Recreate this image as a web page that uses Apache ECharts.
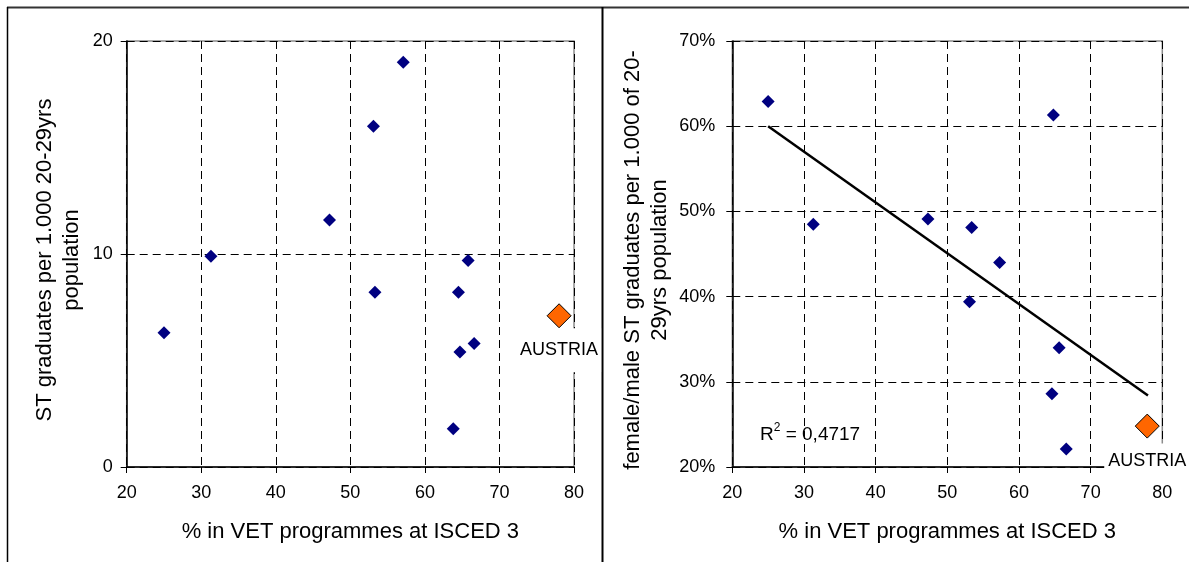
<!DOCTYPE html>
<html>
<head>
<meta charset="utf-8">
<script src="https://cdn.jsdelivr.net/npm/echarts@6/dist/echarts.min.js"></script>
<style>
html,body{margin:0;padding:0;background:#fff;}
#chart{width:1189px;height:562px;}
</style>
</head>
<body>
<div id="chart"></div>
<script>
// ---- data ----
const xTicks = [20, 30, 40, 50, 60, 70, 80];
const leftYTicks = [0, 10, 20];
const rightYTicks = [20, 30, 40, 50, 60, 70];

const leftX = [25.0, 31.3, 47.2, 53.1, 53.3, 57.1, 63.8, 64.5, 64.7, 65.8, 66.6];
const leftY = [6.3, 9.9, 11.6, 16.0, 8.2, 19.0, 1.8, 8.2, 5.4, 9.7, 5.8];
const austriaLeft = [78.0, 7.1];

const rightX = [25.0, 31.3, 47.3, 53.4, 53.1, 57.3, 64.8, 65.6, 64.6, 66.6];
const rightY = [62.9, 48.5, 49.1, 48.1, 39.4, 44.0, 61.3, 34.0, 28.6, 22.1];
const austriaRight = [77.9, 24.8];

const trendX = [25, 78];
const trendY = [60.0, 28.4];

const austriaName = 'AUSTRIA';
const xTitle = '% in VET programmes at ISCED 3';
const leftYTitle = 'ST graduates per 1.000 20-29yrs\npopulation';
const rightYTitle = 'female/male ST graduates per 1.000 of 20-\n29yrs population';
const r2Text = '0,4717';

// ---- chart ----
const FONT = '"Liberation Sans", Arial, sans-serif';
const zip = (a, b) => a.map((v, i) => [v, b[i]]);

function xAxisCfg(gridIndex) {
  return {
    type: 'value', gridIndex, min: xTicks[0], max: xTicks[xTicks.length - 1], interval: 10,
    name: xTitle, nameLocation: 'middle', nameGap: 54,
    nameTextStyle: { fontFamily: FONT, fontSize: 22, color: '#000' },
    axisLine: { show: true, onZero: false, lineStyle: { color: '#000', width: 1.5 } },
    axisTick: { show: true, length: 6, lineStyle: { color: '#000', width: 1 } },
    axisLabel: { margin: 17, fontFamily: FONT, fontSize: 18, color: '#000' },
    splitLine: { show: true, lineStyle: { color: '#000', width: 1, type: [8, 5] } }
  };
}
function yAxisCfg(gridIndex, ticks, name, gap, fmt, margin) {
  return {
    type: 'value', gridIndex, min: ticks[0], max: ticks[ticks.length - 1], interval: 10,
    name, nameLocation: 'middle', nameGap: gap, nameRotate: 90,
    nameTextStyle: { fontFamily: FONT, fontSize: 22, color: '#000', lineHeight: 27, align: 'center', padding: [0, 12, 0, 0] },
    axisLine: { show: true, onZero: false, lineStyle: { color: '#000', width: 1.5 } },
    axisTick: { show: true, length: 6, lineStyle: { color: '#000', width: 1 } },
    axisLabel: { margin, fontFamily: FONT, fontSize: 18, color: '#000', formatter: fmt },
    splitLine: { show: true, lineStyle: { color: '#000', width: 1, type: [8, 5] } }
  };
}

const blueDiamond = { symbol: 'diamond', symbolSize: 13, itemStyle: { color: '#000080', opacity: 1 } };
function austriaSeries(xi, yi, pt, dist, pad) {
  return {
    type: 'scatter', xAxisIndex: xi, yAxisIndex: yi, z: 5,
    symbol: 'diamond', symbolSize: 24,
    itemStyle: { color: '#FF6600', borderColor: '#000', borderWidth: 1, opacity: 1 },
    data: [{ value: pt, name: austriaName }],
    label: {
      show: true, position: 'bottom', distance: dist, formatter: '{b}',
      fontFamily: FONT, fontSize: 18, color: '#000', opacity: 1,
      backgroundColor: '#fff', padding: pad
    }
  };
}

const chart = echarts.init(document.getElementById('chart'), null, { renderer: 'canvas' });
chart.setOption({
  animation: false,
  backgroundColor: '#fff',
  grid: [
    { left: 126.7, top: 41, width: 447.3, height: 426, show: true, borderColor: '#8c8c8c', borderWidth: 1.5, backgroundColor: 'transparent' },
    { left: 732.3, top: 41, width: 430, height: 426, show: true, borderColor: '#8c8c8c', borderWidth: 1.5, backgroundColor: 'transparent' }
  ],
  xAxis: [xAxisCfg(0), xAxisCfg(1)],
  yAxis: [
    yAxisCfg(0, leftYTicks, leftYTitle, 41, '{value}', 14),
    yAxisCfg(1, rightYTicks, rightYTitle, 59, '{value}%', 17)
  ],
  series: [
    Object.assign({ type: 'scatter', xAxisIndex: 0, yAxisIndex: 0, data: zip(leftX, leftY) }, blueDiamond),
    austriaSeries(0, 0, austriaLeft, 0, [13, 3, 13, 3]),
    Object.assign({ type: 'scatter', xAxisIndex: 1, yAxisIndex: 1, data: zip(rightX, rightY) }, blueDiamond),
    {
      type: 'line', xAxisIndex: 1, yAxisIndex: 1, data: zip(trendX, trendY),
      showSymbol: false, symbol: 'none', lineStyle: { color: '#000', width: 2.5, opacity: 1 }, z: 3
    },
    austriaSeries(1, 1, austriaRight, 5, [8, 4, 8, 4])
  ],
  graphic: [
    { type: 'line', shape: { x1: 7, y1: 7.5, x2: 1189, y2: 7.5 }, style: { stroke: '#333', lineWidth: 2 } },
    { type: 'line', shape: { x1: 7.5, y1: 7, x2: 7.5, y2: 562 }, style: { stroke: '#000', lineWidth: 1.5 } },
    { type: 'line', shape: { x1: 602.5, y1: 7, x2: 602.5, y2: 562 }, style: { stroke: '#000', lineWidth: 2 } },
    {
      type: 'text', left: 760, top: 422,
      style: {
        text: '{a|R}{s|2}{a| = ' + r2Text + '}',
        rich: {
          a: { fontFamily: FONT, fontSize: 19, fill: '#000', verticalAlign: 'bottom', lineHeight: 22 },
          s: { fontFamily: FONT, fontSize: 12, fill: '#000', verticalAlign: 'top', lineHeight: 22 }
        }
      }
    }
  ]
});
</script>
</body>
</html>
